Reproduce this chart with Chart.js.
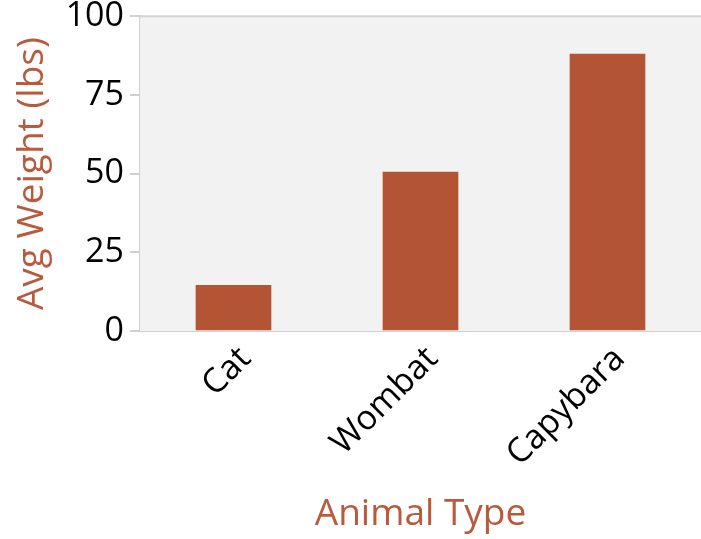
<!DOCTYPE html>
<html>
<head>
<meta charset="utf-8">
<script src="https://cdn.jsdelivr.net/npm/chart.js@4.4.1/dist/chart.umd.min.js"></script>
<style>
  html, body { margin: 0; padding: 0; background: #fff; overflow: hidden; }
  #wrap { width: 701px; height: 539px; }
</style>
</head>
<body>
<div id="wrap"><canvas id="myChart"></canvas></div>
<script>
const animales = ['Cat', 'Wombat', 'Capybara'];
const pesos = [14.5, 50.5, 88];
const ticksY = [0, 25, 50, 75, 100];

const rojo = '#b35535';
const tituloColor = '#b85a3c';

// fondo gris del area del grafico
const fondoPlot = {
  id: 'fondoPlot',
  beforeDatasetsDraw(chart) {
    const { ctx, chartArea: a } = chart;
    ctx.save();
    ctx.fillStyle = '#f2f2f2';
    ctx.fillRect(a.left, a.top, a.right - a.left, a.bottom - a.top);
    ctx.strokeStyle = '#d4d4d4';
    ctx.lineWidth = 2;
    ctx.beginPath();
    ctx.moveTo(a.left, a.top);
    ctx.lineTo(a.right, a.top);
    ctx.stroke();
    ctx.restore();
  }
};

const grafico = document.getElementById('myChart');
new Chart(grafico, {
  type: 'bar',
  data: {
    labels: animales,
    datasets: [{
      label: 'Avg Weight (lbs)',
      data: pesos,
      backgroundColor: rojo,
      barThickness: 75,
    }]
  },
  options: {
    responsive: true,
    maintainAspectRatio: false,
    animation: false,
    layout: { padding: { top: 0, right: 0, left: 0, bottom: 0 } },
    plugins: {
      legend: { display: false },
      tooltip: { enabled: false }
    },
    scales: {
      x: {
        offset: true,
        grid: { display: false, drawOnChartArea: false },
        border: { display: true, color: '#d0d0d0', width: 2 },
        ticks: {
          color: '#000',
          font: { family: 'Open Sans', size: 34 },
          minRotation: 45,
          maxRotation: 45,
          labelOffset: 12,
          padding: 0
        },
        title: {
          display: true,
          text: 'Animal Type',
          color: tituloColor,
          font: { family: 'Open Sans', size: 37 },
          padding: { top: 0, bottom: 2 }
        },
        afterFit(scale) { scale.height = 208; }
      },
      y: {
        min: 0,
        max: 100,
        afterBuildTicks(scale) { scale.ticks = ticksY.map(v => ({ value: v })); },
        grid: {
          drawOnChartArea: false,
          drawTicks: true,
          tickLength: 10,
          color: '#d0d0d0',
          lineWidth: 2
        },
        border: { display: true, color: '#d0d0d0', width: 2 },
        ticks: {
          color: '#000',
          font: { family: 'Open Sans', size: 34, lineHeight: 0.6 },
          padding: 6
        },
        title: {
          display: true,
          text: 'Avg Weight (lbs)',
          color: tituloColor,
          font: { family: 'Open Sans', size: 37 },
          padding: { top: 10, bottom: 0 }
        },
        afterFit(scale) { scale.width = 140; }
      }
    }
  },
  plugins: [fondoPlot]
});
</script>
</body>
</html>
